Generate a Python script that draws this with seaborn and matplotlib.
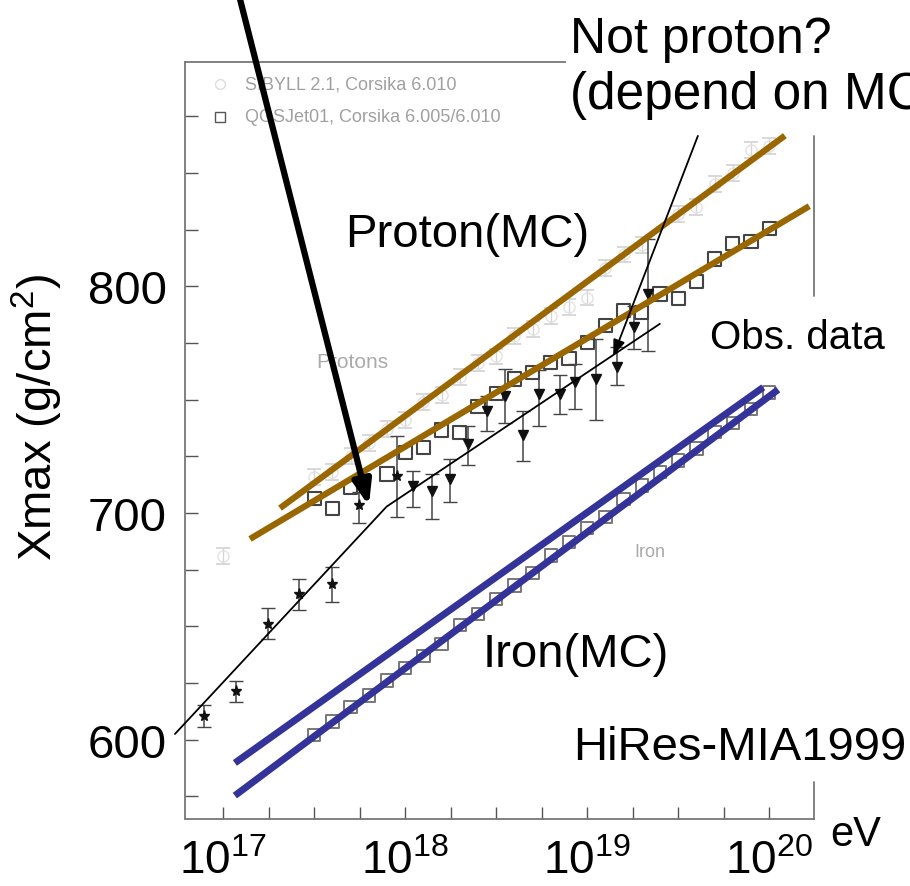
import matplotlib
matplotlib.use("Agg")
import matplotlib.pyplot as plt
import seaborn as sns
import pandas as pd

# Xmax vs energy, HiRes-MIA 1999 with MC bands
##################################################################################################
mc_logE = [17.5, 17.6, 17.7, 17.8, 17.9, 18.0, 18.1, 18.2, 18.3, 18.4, 18.5, 18.6, 18.7,
           18.8, 18.9, 19.0, 19.1, 19.2, 19.3, 19.4, 19.5, 19.6, 19.7, 19.8, 19.9, 20.0]
iron_qgsjet = [602.1, 607.9, 614.3, 619.4, 626.0, 631.5, 636.8, 642.2, 650.6, 655.4, 662.1,
               668.0, 673.5, 681.2, 687.1, 693.3, 698.1, 706.2, 712.0, 718.0, 723.1, 728.5,
               735.6, 739.7, 745.9, 753.2]
proton_qgsjet = [706.5, 702.1, 711.3, None, 717.2, 726.5, 729.0, 736.6, 735.6, 747.1, 752.5,
                 759.1, 761.8, 766.5, 768.2, 775.3, 782.6, 789.2, 788.5, 796.6, 794.7, 802.0,
                 812.0, 818.7, 819.7, 825.3]

sibyll_logE = [17.0, 17.5, 17.6, 17.7, 17.8, 17.9, 18.0, 18.1, 18.2, 18.3, 18.4, 18.5, 18.6,
               18.7, 18.8, 18.9, 19.0, 19.1, 19.2, 19.3, 19.5, 19.6, 19.7, 19.8, 19.9, 20.0]
sibyll_proton = [680.8, 716, 718, 725, 731, 737, 741, 749, 752, 760, 766, 769, 778,
                 781, 787, 791, 795, 808, 814, 818, 832, 835, 845, 850, 860, 862]
sibyll_err = [3.5] * len(sibyll_logE)

# MIA (stars) and HiRes (triangles) measurements
mia_logE = [16.895, 17.07, 17.246, 17.418, 17.596, 17.747, 17.953]
mia_xmax = [610.6, 621.6, 651.0, 664.3, 668.7, 703.5, 716.5]
mia_lo = [605.5, 616.5, 644.4, 657.3, 660.9, 695.6, 698.1]
mia_hi = [615.4, 626.0, 658.0, 670.9, 676.3, 709.1, 734.1]

hires_logE = [18.044, 18.145, 18.246, 18.346, 18.447, 18.548, 18.645, 18.736, 18.852,
              18.935, 19.048, 19.162, 19.259, 19.335]
hires_xmax = [712.0, 709.8, 715.0, 730.4, 745.1, 751.4, 734.4, 752.5, 752.5, 757.7, 759.1,
              764.3, 781.9, 796.6]
hires_lo = [702.5, 697.4, 704.7, 721.2, 736.3, 739.7, 722.9, 738.4, 743.7, 745.9, 741.0,
            756.5, 772.3, 771.5]
hires_hi = [718.7, 717.2, 723.8, 738.2, 751.7, 763.5, 745.1, 763.1, 760.9, 765.7, 776.8,
            773.1, 791.4, 820.9]

# hand-drawn overlay lines (logE, Xmax end points)
proton_hi_line = ([17.312, 20.086], [702.1, 866.4])
proton_lo_line = ([17.147, 20.22], [688.5, 835.3])
iron_hi_line = ([17.064, 19.967], [589.7, 755.4])
iron_lo_line = ([17.064, 20.049], [575.3, 754.4])
fit_line = ([16.735, 17.898, 19.399], [602.5, 702.8, 783.4])
##################################################################################################

sns.set_theme(style="white")
plt.rcParams['font.family'] = ['Liberation Sans', 'DejaVu Sans']
plt.rcParams['mathtext.default'] = 'regular'
plt.rcParams['text.color'] = 'black'
plt.rcParams['xtick.labelcolor'] = 'black'
plt.rcParams['ytick.labelcolor'] = 'black'

W, H = 910, 887
fig = plt.figure(figsize=(W / 100, H / 100), dpi=100)
ax = fig.add_axes([185 / W, 1 - 819.5 / H, 629 / W, 756.5 / H])
ax.set_xlim(16.79, 20.246)
ax.set_ylim(565.2, 898.9)


def fp(x, y):
    return x / W, 1 - y / H


gray = '#777777'
for s in ['left', 'bottom', 'top']:
    ax.spines[s].set_color(gray)
    ax.spines[s].set_linewidth(1.3)
ax.spines['right'].set_visible(False)
ax.spines['top'].set_bounds(16.79, 18.88)
ax.axvline(20.246, ymin=0, ymax=36.5 / 756.5, color=gray, lw=1.3, clip_on=False)
ax.axvline(20.246, ymin=522.5 / 756.5, ymax=682.5 / 756.5, color=gray, lw=1.3, clip_on=False)

ax.set_xticks([17, 18, 19, 20], labels=['$10^{17}$', '$10^{18}$', '$10^{19}$', '$10^{20}$'])
ax.set_xticks([17.25, 17.5, 17.75, 18.25, 18.5, 18.75, 19.25, 19.5, 19.75], minor=True)
ax.set_yticks([600, 700, 800], labels=['600', '700', '800'])
ax.set_yticks([575, 625, 650, 675, 725, 750, 775, 825, 850, 875], minor=True)
ax.tick_params(which='both', direction='in', length=9, width=1, color='#555555',
               bottom=True, left=True, top=False, right=False)
ax.tick_params(axis='x', which='major', labelsize=33, pad=15)
ax.tick_params(axis='y', which='major', labelsize=34, pad=13)

# simulations
df_mc = pd.DataFrame({'logE': mc_logE, 'iron': iron_qgsjet, 'proton': proton_qgsjet})
sns.scatterplot(data=df_mc, x='logE', y='iron', marker='s', s=80, facecolor='none',
                edgecolor='#777777', linewidth=1.4, ax=ax, zorder=3)
sns.scatterplot(data=df_mc.dropna(), x='logE', y='proton', marker='s', s=90, facecolor='none',
                edgecolor='#444444', linewidth=1.5, ax=ax, zorder=3)

sib = ax.errorbar(sibyll_logE, sibyll_proton, yerr=sibyll_err, fmt='o', ms=8, mfc='none',
                  mec='#e2e2e2', ecolor='#d5d5d5', elinewidth=1, capsize=5, capthick=1.3, zorder=3)
for c in sib[1]:
    c.set_color('#666666')

# measurements
ax.errorbar(mia_logE, mia_xmax,
            yerr=[[m - l for m, l in zip(mia_xmax, mia_lo)], [h - m for m, h in zip(mia_xmax, mia_hi)]],
            fmt='*', ms=8, color='#111111', ecolor='#444444', elinewidth=1.1, capsize=5, zorder=4)
ax.errorbar(hires_logE, hires_xmax,
            yerr=[[m - l for m, l in zip(hires_xmax, hires_lo)], [h - m for m, h in zip(hires_xmax, hires_hi)]],
            fmt='v', ms=7, color='#111111', ecolor='#444444', elinewidth=1.1, capsize=5, zorder=4)

# faint labels of the original plot
ax.text(17.707, 767, 'Protons', color='#aaaaaa', fontsize=15, ha='center', va='center')
ax.text(19.345, 682.8, 'Iron', color='#aaaaaa', fontsize=13, ha='center', va='center')
ax.plot([16.985], [889.2], 'o', ms=7, mfc='none', mec='#dddddd', clip_on=False)
ax.plot([16.985], [874.7], 's', ms=7, mfc='none', mec='#555555', clip_on=False)
ax.text(17.12, 889.2, 'SIBYLL 2.1, Corsika 6.010', color='#a0a0a0', fontsize=13, va='center')
ax.text(17.12, 874.7, 'QGSJet01, Corsika 6.005/6.010', color='#a0a0a0', fontsize=13, va='center')

# overlay lines
ax.plot(*proton_hi_line, color='#996600', lw=4.5, solid_capstyle='butt', zorder=5)
ax.plot(*proton_lo_line, color='#996600', lw=4.5, solid_capstyle='butt', zorder=5)
ax.plot(*iron_hi_line, color='#333399', lw=5, solid_capstyle='butt', zorder=5)
ax.plot(*iron_lo_line, color='#333399', lw=5, solid_capstyle='butt', zorder=5)
ax.plot(*fit_line, color='black', lw=1.3, zorder=6, clip_on=False)

ax.annotate('', xy=(17.80, 703.1), xytext=(17.092, 926.7), annotation_clip=False,
            arrowprops=dict(arrowstyle='-|>,head_length=1.2,head_width=0.45', lw=4.5,
                            color='black', shrinkA=0, shrinkB=0), zorder=7)
ax.annotate('', xy=(19.143, 769.3), xytext=(19.608, 866.3), annotation_clip=False,
            arrowprops=dict(arrowstyle='-|>,head_length=0.8,head_width=0.3', lw=1.3,
                            color='black', shrinkA=0, shrinkB=0), zorder=7)

# slide annotations
box = dict(facecolor='white', edgecolor='none', pad=2)
fig.text(*fp(570, 40), 'Not proton?', fontsize=36, va='center', bbox=box, zorder=10)
fig.text(*fp(570, 96), '(depend on MC)', fontsize=37, va='center', bbox=box, zorder=10)
fig.text(*fp(345, 235), 'Proton(MC)', fontsize=34, va='center', zorder=10)
fig.text(*fp(710, 338), 'Obs. data', fontsize=29, va='center', bbox=box, zorder=10)
fig.text(*fp(483, 655), 'Iron(MC)', fontsize=34, va='center', zorder=10)
fig.text(*fp(573, 748), 'HiRes-MIA1999', fontsize=34, va='center', bbox=box, zorder=10)
fig.text(*fp(830, 835), 'eV', fontsize=30, va='center', zorder=10)
fig.text(*fp(37, 418), 'Xmax (g/cm$^2$)', fontsize=34, rotation=90, ha='center', va='center')

ax.set_xlabel('')
ax.set_ylabel('')
fig.savefig('out.png', dpi=100)
